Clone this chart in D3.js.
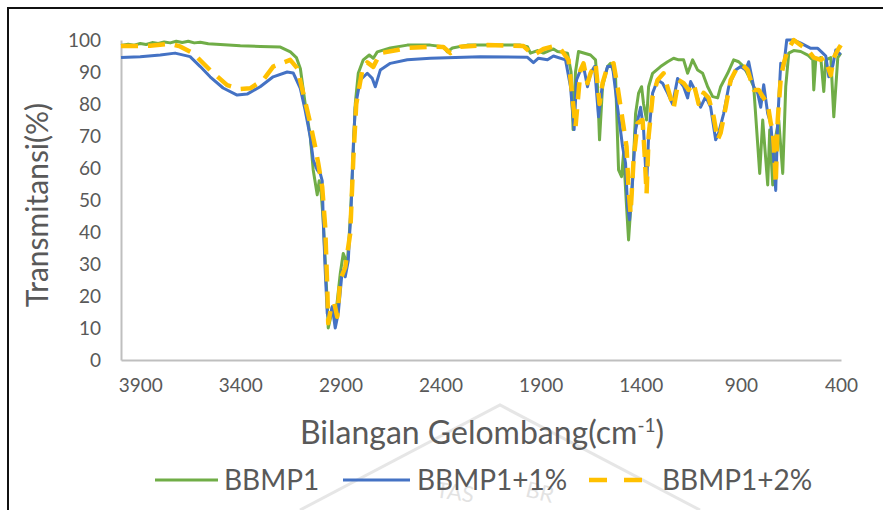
<!DOCTYPE html>
<html>
<head>
<meta charset="utf-8">
<script src="https://cdn.jsdelivr.net/npm/d3@7"></script>
<style>
  body { margin: 0; background: #fff; }
  svg text { font-family: Lato, "Open Sans", sans-serif; fill: #595959; }
</style>
</head>
<body>
<svg id="chart" width="883" height="510"></svg>
<script>
// nama seri dan label sumbu
const seriesNames = ["BBMP1", "BBMP1+1%", "BBMP1+2%"];
const xTicks = [3900, 3400, 2900, 2400, 1900, 1400, 900, 400];
const yTicks = [0, 10, 20, 30, 40, 50, 60, 70, 80, 90, 100];

// [bilangan gelombang, transmitansi]
const bbmp1 = [
  [3996,98.3],[3960,98.7],[3930,98.4],[3900,98.9],[3870,98.6],[3840,99.2],[3810,98.9],[3780,99.4],
  [3750,99.1],[3720,99.6],[3690,99.2],[3660,99.6],[3630,99.1],[3600,99.3],[3560,98.8],[3500,98.6],
  [3400,98.2],[3300,98.0],[3200,97.8],[3150,96.3],[3120,94.5],[3100,91],[3076,80],[3051,70],
  [3036,59.4],[3016,51.6],[3006,56],[2996,52],[2986,43.8],[2966,17.8],[2961,10],[2950,13],
  [2941,16.6],[2926,12.5],[2901,27],[2886,33.3],[2866,30],[2851,43.8],[2836,64.6],[2826,80],
  [2811,89.6],[2786,93.8],[2756,95.3],[2736,94.3],[2716,96.3],[2651,97.5],[2566,98.4],[2451,98.4],
  [2386,97.9],[2366,96.3],[2341,97.5],[2266,98.4],[2036,98.4],[2001,98.4],[1966,97.9],[1951,95.9],
  [1916,96.7],[1886,95.9],[1836,97.2],[1816,96.4],[1766,95.9],[1748,90],[1738,72],[1726,90],
  [1711,96.4],[1651,95.3],[1626,93.8],[1616,85.4],[1606,68.8],[1591,85.4],[1566,91.7],[1551,92.7],
  [1526,88.5],[1511,59.4],[1496,57.3],[1486,64.6],[1471,47.9],[1461,37.5],[1441,56],[1426,77],
  [1411,83.4],[1396,85.4],[1386,80],[1371,75],[1361,85.4],[1341,89.6],[1301,91.7],[1266,93.2],
  [1236,94.3],[1211,93.8],[1186,93.8],[1166,89.6],[1141,93.8],[1116,90.6],[1091,89.6],[1066,85.4],
  [1041,82.3],[1016,81.9],[1001,85.4],[966,89.6],[936,93.8],[911,93.2],[886,91.7],[851,87.5],
  [836,85.4],[806,58.3],[791,75],[766,54.7],[756,71.9],[741,54.7],[726,69.8],[711,75],
  [691,58.3],[676,85.4],[661,95.9],[636,96.7],[601,96.4],[566,95.3],[541,93.8],[536,84.4],
  [526,93.8],[501,94.5],[486,83.9],[476,93.8],[451,94.5],[436,76],[416,94.5],[401,95.9]
];
const bbmp1Plus1 = [
  [3996,94.5],[3900,94.8],[3800,95.3],[3726,95.9],[3651,94.8],[3600,91.7],[3551,88.5],[3486,85],
  [3416,82.8],[3366,83.1],[3301,85.4],[3236,88.5],[3166,90],[3136,89.7],[3101,85],[3076,78],
  [3051,69.8],[3036,62.5],[3016,59.4],[3001,58.3],[2991,56],[2986,43.8],[2976,28],[2966,14.6],
  [2956,12.5],[2941,16.6],[2926,10],[2911,14.6],[2891,28],[2876,26],[2861,31],[2846,49],
  [2836,66.6],[2826,79],[2801,87.5],[2766,89.6],[2741,88],[2726,85.4],[2701,90.6],[2651,92.7],
  [2566,93.8],[2451,94.3],[2201,94.8],[1966,94.6],[1936,92.9],[1911,94.3],[1866,93.8],[1836,95],
  [1776,93.8],[1751,85.4],[1733,72],[1721,87.5],[1701,90.6],[1686,91.7],[1666,85.4],[1651,89.6],
  [1631,91.7],[1611,76],[1591,86.5],[1566,91.7],[1541,91.7],[1516,79],[1491,66.7],[1476,61.5],
  [1466,47.9],[1456,43.8],[1441,56],[1426,71.9],[1401,79],[1386,71.9],[1371,54],[1361,69.8],
  [1341,83.4],[1316,87.5],[1291,86.5],[1266,83.4],[1241,80],[1216,88],[1186,85.4],[1166,81.9],
  [1151,87],[1126,83.9],[1101,79],[1076,82.3],[1051,79],[1026,68.8],[1011,71],[986,77],
  [961,85.4],[926,90.6],[901,91.7],[876,90.6],[861,93.2],[836,85.4],[816,83.4],[801,79],
  [786,86],[766,77],[751,74],[736,62.5],[726,53],[716,75],[701,92.7],[686,91.7],
  [671,100],[636,100],[601,99],[551,97.4],[516,97.4],[491,95.9],[476,95],[461,88.5],
  [441,92],[426,96.9],[411,95.9],[401,95.5]
];
const bbmp1Plus2 = [
  [3996,98.1],[3851,98.2],[3751,98.8],[3701,98],[3636,95.9],[3551,90.6],[3466,85.9],[3401,84.7],
  [3351,84.9],[3286,87.5],[3236,91.7],[3151,93.8],[3116,91.2],[3086,83.4],[3051,74],[3026,66.6],
  [3011,61.5],[2991,54],[2976,41.5],[2966,22.9],[2961,11.5],[2946,16.6],[2931,17.8],[2916,13.5],
  [2901,25],[2876,29],[2851,39.6],[2836,62.5],[2821,80],[2791,90.6],[2766,93],[2736,91.6],
  [2701,95.9],[2616,96.9],[2566,97.5],[2451,97.9],[2386,97.8],[2351,95.9],[2301,97.9],[2166,98.4],
  [1986,98.1],[1936,95.3],[1886,97.2],[1836,98],[1801,97.2],[1761,93.8],[1741,82],[1726,72.8],
  [1716,80],[1701,90.6],[1686,92.7],[1666,86.5],[1651,89.6],[1626,92.7],[1606,80],[1591,86.5],
  [1566,91.7],[1536,92.7],[1516,85.4],[1491,75],[1471,66.6],[1461,53.3],[1451,45.8],[1436,62.5],
  [1416,74],[1391,75],[1381,64.6],[1371,52],[1361,69.8],[1341,82.3],[1316,87.5],[1286,89.6],
  [1261,84],[1236,78.6],[1211,87.5],[1186,86.5],[1161,84.4],[1136,86.5],[1111,80],[1086,83.5],
  [1061,81.9],[1036,76],[1016,68.8],[1001,71],[976,79],[951,87.5],[916,91.7],[891,92.2],
  [866,90.6],[836,84.4],[811,84.4],[791,82.3],[766,80],[751,74],[741,72],[731,61.5],
  [726,55],[716,75],[701,88],[686,92.7],[666,96.9],[636,100],[601,98.4],[566,96.9],
  [536,94.5],[501,93.8],[486,94.5],[466,91.7],[451,89],[436,94.5],[416,96.9],[401,98.4]
];

const colors = ["#70ad47", "#4472c4", "#ffc000"];
const allSeries = [bbmp1, bbmp1Plus1, bbmp1Plus2];

const svg = d3.select("#chart");
const margin = {top: 40, right: 42, bottom: 150, left: 121};
const width = 883 - margin.left - margin.right;
const height = 510 - margin.top - margin.bottom;

// bingkai hitam
svg.append("rect")
  .attr("x", 8).attr("y", 8).attr("width", 900).attr("height", 540)
  .attr("fill", "none").attr("stroke", "#111").attr("stroke-width", 2);

// watermark samar
const wm = svg.append("g").attr("opacity", 0.18);
wm.append("path")
  .attr("d", "M300,510 L500,405 L700,510")
  .attr("fill", "none").attr("stroke", "#777").attr("stroke-width", 3);
wm.append("text").attr("x", 455).attr("y", 500).attr("text-anchor", "middle")
  .style("font-size", "22px").style("fill", "#666").attr("transform", "rotate(8,455,492)")
  .text("TAS");
wm.append("text").attr("x", 540).attr("y", 500).attr("text-anchor", "middle")
  .style("font-size", "22px").style("fill", "#666").attr("transform", "rotate(14,540,492)")
  .text("BR");

const g = svg.append("g").attr("transform", `translate(${margin.left},${margin.top})`);

const x = d3.scaleLinear().domain([3996, 400]).range([0, width]);
const y = d3.scaleLinear().domain([0, 100]).range([height, 0]);

// sumbu
const xAxis = d3.axisBottom(x).tickValues(xTicks).tickSize(0).tickPadding(19).tickFormat(d3.format("d"));
const xAxisDraw = g.append("g").attr("transform", `translate(0,${height})`).call(xAxis);
const yAxis = d3.axisLeft(y).tickValues(yTicks).tickSize(0).tickPadding(20);
const yAxisDraw = g.append("g").call(yAxis);
[xAxisDraw, yAxisDraw].forEach(a => {
  a.select(".domain").attr("stroke", "#bfbfbf").attr("stroke-width", 2);
  a.selectAll("text").style("font-size", "19px").style("font-family", "Lato, sans-serif").attr("fill", "#595959");
});

// garis spektrum
const line = d3.line().x(d => x(d[0])).y(d => y(d[1]));
allSeries.forEach((s, i) => {
  g.append("path")
    .datum(s)
    .attr("fill", "none")
    .attr("stroke", colors[i])
    .attr("stroke-width", i === 2 ? 4.5 : 3)
    .attr("stroke-dasharray", i === 2 ? "17,10" : null)
    .attr("stroke-linejoin", "round")
    .attr("d", line);
});

// judul sumbu
svg.append("text")
  .attr("transform", "translate(48,205) rotate(-90)")
  .attr("text-anchor", "middle")
  .style("font-size", "30px")
  .text("Transmitansi(%)");

const xt = svg.append("text")
  .attr("x", 482).attr("y", 444)
  .attr("text-anchor", "middle")
  .style("font-size", "32px");
xt.append("tspan").text("Bilangan Gelombang(cm");
xt.append("tspan").attr("dy", -12).style("font-size", "19px").text("-1");
xt.append("tspan").attr("dy", 12).text(")");

// legenda
const legendItems = [
  {x1: 155, x2: 218, tx: 224},
  {x1: 343, x2: 410, tx: 417},
  {x1: 589, x2: 642, tx: 662}
];
const lg = svg.append("g");
legendItems.forEach((d, i) => {
  lg.append("line")
    .attr("x1", d.x1).attr("x2", d.x2).attr("y1", 480).attr("y2", 480)
    .attr("stroke", colors[i])
    .attr("stroke-width", i === 2 ? 4.5 : 3)
    .attr("stroke-dasharray", i === 2 ? "18,17" : null);
  lg.append("text")
    .attr("x", d.tx).attr("y", 490)
    .style("font-size", "28px")
    .text(seriesNames[i]);
});
</script>
</body>
</html>
